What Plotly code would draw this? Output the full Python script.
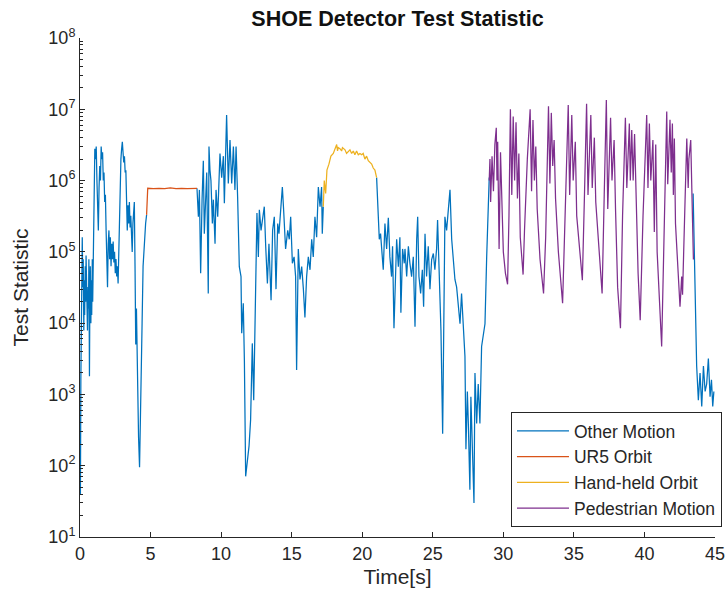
import plotly.graph_objects as go

# ---------------- data ----------------
other_t = [
    0.00, 0.03, 0.06, 0.10, 0.13, 0.16, 0.20, 0.23, 0.27, 0.30, 0.33, 0.37, 0.40, 0.43, 0.47,
    0.50, 0.53, 0.57, 0.60, 0.63, 0.67, 0.70, 0.73, 0.77, 0.80, 0.83, 0.87, 0.90, 0.93, 0.96,
    1.00, 1.05, 1.10, 1.15, 1.20, 1.25, 1.30, 1.35, 1.40, 1.45, 1.50, 1.55, 1.60, 1.65, 1.70,
    1.75, 1.80, 1.85, 1.90, 1.95, 2.00, 2.05, 2.10, 2.15, 2.20, 2.25, 2.30, 2.35, 2.40, 2.45,
    2.50, 2.55, 2.60, 2.65, 2.70, 2.75, 2.80, 2.85, 2.90, 2.95, 3.00, 3.05, 3.10, 3.15, 3.20,
    3.25, 3.30, 3.35, 3.40, 3.45, 3.50, 3.55, 3.60, 3.65, 3.70, 3.75, 3.80, 3.85, 3.90, 3.95,
    4.00, 4.05, 4.10, 4.15, 4.22, 4.28, 4.33, 4.40, 4.47, 4.55, 4.65, 4.72,
    None,
    8.29, 8.39, 8.46, 8.55, 8.65, 8.74, 8.81, 8.91, 8.98, 9.09, 9.14, 9.21, 9.28, 9.38, 9.45,
    9.57, 9.64, 9.76, 9.85, 9.92, 10.04, 10.16, 10.23, 10.32, 10.39, 10.51, 10.63, 10.75, 10.87,
    10.98, 11.06, 11.17, 11.29, 11.41, 11.46, 11.57, 11.65, 11.74, 11.86, 11.98, 12.09, 12.21,
    12.31, 12.45, 12.54, 12.64, 12.71, 12.83, 12.94, 13.06, 13.16, 13.28, 13.39, 13.54, 13.65,
    13.77, 13.89, 14.01, 14.10, 14.24, 14.34, 14.43, 14.57, 14.72, 14.83, 14.93, 15.05, 15.17,
    15.28, 15.35, 15.47, 15.59, 15.71, 15.83, 15.94, 16.06, 16.18, 16.30, 16.42, 16.53, 16.65,
    16.77, 16.89, 17.01, 17.12, 17.17, 17.24,
    None,
    21.02, 21.14, 21.21, 21.30, 21.37, 21.49, 21.61, 21.73, 21.85, 21.96, 22.08, 22.15, 22.25,
    22.34, 22.44, 22.56, 22.67, 22.74, 22.86, 22.98, 23.03, 23.15, 23.27, 23.38, 23.50, 23.62,
    23.74, 23.86, 23.93, 24.02, 24.14, 24.26, 24.35, 24.45, 24.56, 24.68, 24.80, 24.92, 25.04,
    25.15, 25.27, 25.34, 25.46, 25.58, 25.70, 25.79, 25.86, 25.98, 26.10, 26.22, 26.34, 26.45,
    26.57, 26.69, 26.81, 26.93, 27.04, 27.16, 27.28, 27.35, 27.45, 27.52, 27.63, 27.70, 27.80,
    27.92, 27.99, 28.11, 28.22, 28.34, 28.46, 28.58, 28.70, 28.82, 28.93, 29.00,
    None,
    43.45, 43.55, 43.70, 43.82, 43.94, 44.06, 44.18, 44.30, 44.41, 44.53, 44.65, 44.75, 44.84, 44.92,
]
other_v = [
    2.0e2, 40, 1.6e3, 6.3e4, 1.6e4, 1.6e5, 3.2e4, 7.9e4, 7.9e3, 4.0e4, 1.3e4, 6.3e4, 2.0e4, 8.9e4, 2.5e4,
    5.0e4, 7.9e3, 3.2e4, 1.6e4, 7.9e4, 1.8e3, 2.5e4, 6.3e4, 1.0e4, 4.0e4, 1.3e4, 7.9e4, 2.0e4, 5.0e4, 3.2e5,
    1.6e6, 2.8e6, 2.0e6, 3.0e6, 1.0e6, 5.0e5, 2.0e5, 7.9e5, 1.6e6, 1.0e6, 3.0e6, 2.0e6, 2.5e6, 1.0e6, 1.3e6,
    5.0e5, 6.3e5, 2.0e5, 1.0e5, 3.2e4, 1.3e5, 2.0e5, 7.9e4, 1.6e5, 6.3e4, 1.3e5, 7.9e4, 1.4e5, 7.1e4, 1.0e5,
    5.0e4, 7.9e4, 4.5e4, 6.3e4, 3.6e4, 1.0e5, 4.0e5, 1.0e6, 2.0e6, 2.8e6, 3.5e6, 2.5e6, 1.8e6, 2.2e6, 1.3e6,
    1.4e6, 4.0e5, 2.0e5, 4.5e5, 2.5e5, 5.0e5, 2.2e5, 3.2e5, 1.6e5, 1.0e5, 2.5e5, 4.0e5, 5.0e5, 6.3e4, 5.0e3,
    1.6e4, 2.0e3, 6.3e2, 2.5e2, 95, 3.2e2, 2.0e3, 1.0e4, 6.3e4, 1.3e5, 2.5e5, 3.3e5,
    None,
    7.8e5, 3.1e5, 7.4e5, 5.0e4, 5.4e5, 1.9e6, 1.8e5, 7.4e5, 1.3e6, 2.6e4, 3.0e6, 1.4e6, 1.0e6, 2.5e5, 5.4e5,
    1.3e5, 7.4e5, 3.1e5, 7.4e5, 2.4e6, 1.1e6, 2.2e6, 4.8e5, 2.2e6, 8.3e6, 9.1e5, 3.7e6, 9.1e5, 3.0e6,
    7.4e5, 3.0e6, 5.9e5, 6.2e4, 4.5e4, 7.2e3, 1.9e4, 3.0e3, 71, 1.3e2, 1.9e2, 4.4e2, 5.2e3,
    8.3e2, 3.0e4, 3.5e5, 8.5e4, 3.9e5, 2.0e5, 3.1e5, 4.3e5, 1.2e5, 3.6e4, 1.3e5, 2.1e4, 2.0e5,
    3.1e5, 3.0e4, 2.5e5, 1.8e5, 5.4e5, 8.1e5, 3.9e5, 1.1e5, 2.0e5, 1.5e5, 3.1e5, 6.9e4, 8.5e4,
    4.5e4, 2.2e3, 1.1e5, 4.1e4, 6.2e4, 3.0e4, 1.2e4, 4.5e4, 8.5e4, 5.6e4, 1.5e5, 8.5e4, 3.1e5,
    1.6e5, 8.1e5, 4.3e5, 8.1e5, 1.8e5, 4.3e5,
    None,
    1.1e6, 3.1e5, 1.5e5, 1.8e5, 1.1e5, 5.6e4, 2.5e5, 1.1e5, 3.0e5, 8.5e4, 4.5e4, 1.2e5, 8.5e3,
    4.5e4, 1.5e5, 6.2e4, 1.6e5, 1.4e4, 1.1e5, 6.9e4, 1.1e5, 4.5e4, 1.2e5, 6.9e4, 4.5e4, 8.5e4,
    8.9e3, 1.5e5, 3.1e5, 4.5e4, 2.6e4, 5.6e4, 1.7e4, 1.8e5, 4.5e4, 1.2e5, 3.0e4, 7.8e4, 9.5e4,
    5.6e4, 1.1e5, 2.8e5, 5.6e4, 7.9e3, 2.8e2, 4.5e4, 3.1e5, 2.0e5, 3.5e5, 7.4e5, 1.5e5, 8.5e4,
    4.1e4, 3.2e4, 1.5e4, 9.8e3, 2.6e4, 7.9e3, 3.4e3, 1.7e2, 1.1e3, 3.9e2, 46, 9.3e2, 1.3e2,
    30, 2.0e3, 3.9e2, 1.4e3, 3.9e2, 4.7e3, 6.5e3, 9.8e3, 8.5e4, 7.4e5, 1.1e6,
    None,
    6.6e5, 8.5e4, 2.5e3, 8.3e2, 2.0e3, 6.8e2, 2.5e3, 1.1e3, 1.4e3, 3.2e3, 9.3e2, 1.6e3, 6.8e2, 1.1e3,
]

ur5_t = [4.72, 4.76, 4.80, 5.20, 5.60, 6.00, 6.40, 6.80, 7.20, 7.60, 8.00, 8.29]
ur5_v = [3.3e5, 6.0e5, 7.8e5, 7.7e5, 7.8e5, 7.7e5, 7.9e5, 7.7e5, 7.8e5, 7.7e5, 7.8e5, 7.8e5]

handheld_t = [17.24, 17.31, 17.41, 17.50, 17.64, 17.78, 17.95, 18.07, 18.19, 18.25, 18.30, 18.42,
              18.54, 18.60, 18.66, 18.78, 18.89, 19.01, 19.13, 19.25, 19.37, 19.48, 19.60, 19.72,
              19.84, 19.96, 20.07, 20.19, 20.31, 20.43, 20.55, 20.67, 20.78, 20.90, 21.02]
handheld_v = [4.3e5, 1.0e6, 6.6e5, 1.4e6, 1.7e6, 2.2e6, 2.4e6, 2.7e6, 3.2e6, 2.6e6, 2.9e6, 2.8e6,
              2.6e6, 2.9e6, 2.8e6, 2.7e6, 2.4e6, 2.6e6, 2.7e6, 2.4e6, 2.6e6, 2.3e6, 2.6e6, 2.3e6,
              2.4e6, 2.3e6, 2.4e6, 2.0e6, 2.2e6, 1.9e6, 1.8e6, 1.7e6, 1.5e6, 1.4e6, 1.1e6]

pedestrian_t = [
    29.00, 29.05, 29.10, 29.20, 29.30, 29.40, 29.50, 29.55, 29.60, 29.70, 29.80, 29.90, 30.00, 30.15,
    30.30, 30.40, 30.50, 30.60, 30.70, 30.80, 30.90, 31.00, 31.10, 31.20, 31.40, 31.50, 31.70, 31.90,
    32.00, 32.10, 32.20, 32.30, 32.40, 32.60, 32.85, 33.00, 33.20, 33.30, 33.40, 33.50, 33.60, 33.70,
    33.90, 34.20, 34.40, 34.60, 34.70, 34.85, 34.95, 35.10, 35.20, 35.40, 35.60, 35.75, 35.90, 36.00,
    36.20, 36.30, 36.45, 36.55, 36.80, 37.00, 37.15, 37.30, 37.40, 37.60, 37.70, 37.85, 37.95, 38.10,
    38.30, 38.45, 38.65, 38.75, 38.93, 39.00, 39.10, 39.20, 39.30, 39.45, 39.55, 39.70, 39.90, 40.16,
    40.25, 40.35, 40.45, 40.60, 40.70, 40.80, 40.90, 41.22, 41.35, 41.58, 41.65, 41.81, 41.90, 41.98,
    42.05, 42.12, 42.20, 42.40, 42.52, 42.64, 42.70, 42.88, 43.00, 43.10, 43.15, 43.28, 43.35, 43.47,
]
pedestrian_v = [
    1.0e6, 2.0e6, 5.0e5, 2.2e6, 7.1e5, 3.2e6, 5.5e6, 1.0e6, 3.5e6, 1.1e5, 2.5e6, 3.2e5, 1.0e5, 5.0e4,
    3.5e4, 3.2e5, 1.0e7, 6.3e5, 7.9e6, 1.0e6, 6.6e6, 5.6e5, 2.4e6, 1.6e5, 4.8e4, 2.0e5, 2.0e6, 1.0e7,
    7.1e5, 7.1e6, 1.0e6, 3.0e6, 4.0e5, 7.9e4, 2.6e4, 1.6e5, 1.1e7, 9.1e5, 8.9e6, 1.6e6, 3.7e6, 5.6e5,
    1.0e5, 1.9e4, 5.0e5, 1.15e7, 6.3e5, 8.3e6, 1.0e6, 3.5e6, 3.2e5, 1.0e5, 4.0e4, 6.3e5, 1.2e7, 6.3e5,
    8.3e6, 7.9e5, 4.0e6, 5.0e5, 7.9e4, 2.6e4, 6.3e5, 1.35e7, 4.0e5, 7.6e6, 1.0e6, 3.7e6, 4.0e5, 3.2e4,
    8.5e3, 3.2e5, 7.6e6, 7.9e5, 6.3e6, 1.0e6, 5.1e6, 1.0e6, 4.5e6, 4.3e5, 5.0e4, 1.1e4, 3.2e5, 8.3e6,
    7.9e5, 6.3e6, 1.0e6, 3.7e6, 1.9e5, 3.2e6, 1.0e5, 4.7e3, 1.0e5, 9.3e6, 8.9e5, 7.1e6, 1.3e6, 6.3e6,
    6.3e5, 3.9e6, 2.5e5, 4.0e4, 1.7e4, 4.5e4, 2.5e4, 5.4e5, 3.9e6, 7.9e5, 2.0e6, 3.7e6, 5.4e5, 7.8e4,
]

series_names = ["Other Motion", "UR5 Orbit", "Hand-held Orbit", "Pedestrian Motion"]
series_colors = ["#0072BD", "#D95319", "#EDB120", "#7E2F8E"]

ytick_vals = [1e1, 1e2, 1e3, 1e4, 1e5, 1e6, 1e7, 1e8]
ytick_text = ["10<sup>1</sup>", "10<sup>2</sup>", "10<sup>3</sup>", "10<sup>4</sup>",
              "10<sup>5</sup>", "10<sup>6</sup>", "10<sup>7</sup>", "10<sup>8</sup>"]
xtick_vals = [0, 5, 10, 15, 20, 25, 30, 35, 40, 45]

# ---------------- figure ----------------
FONT = "Liberation Sans, Arial, Helvetica, sans-serif"
AX = "#262626"

fig = go.Figure()
series = [(other_t, other_v), (ur5_t, ur5_v), (handheld_t, handheld_v), (pedestrian_t, pedestrian_v)]
for (tt, vv), name, col in zip(series, series_names, series_colors):
    fig.add_trace(go.Scatter(x=tt, y=vv, mode="lines", name=name,
                             line=dict(color=col, width=1.25), connectgaps=False))

fig.update_layout(
    width=726, height=602,
    margin=dict(l=80, r=11, t=38, b=65, autoexpand=False),
    paper_bgcolor="white", plot_bgcolor="white",
    font=dict(family=FONT, color=AX),
    title=dict(text="<b>SHOE Detector Test Statistic</b>", x=0.5, xref="paper", xanchor="center",
               y=1 - 18 / 602, yref="container", yanchor="middle",
               font=dict(size=21.5, color="#111111", family=FONT)),
    showlegend=True,
    legend=dict(x=1.011, xanchor="right", y=0.02, yanchor="bottom",
                bgcolor="white", bordercolor=AX, borderwidth=1, itemwidth=52,
                font=dict(size=17.5, color=AX, family=FONT), tracegroupgap=0),
)

fig.update_xaxes(range=[0, 45], tickvals=xtick_vals, ticks="inside", ticklen=5, tickcolor=AX,
                 showline=True, linecolor=AX, linewidth=1, mirror=False, showgrid=False, zeroline=False,
                 automargin=False,
                 tickfont=dict(size=18, color=AX, family=FONT),
                 title=dict(text="Time[s]", font=dict(size=21, color=AX, family=FONT), standoff=6))

fig.update_yaxes(type="log", range=[1, 8], tickvals=ytick_vals, ticktext=ytick_text,
                 ticks="inside", ticklen=5, tickcolor=AX,
                 minor=dict(ticks="inside", ticklen=3, tickcolor=AX, dtick="D1", showgrid=False),
                 showline=True, linecolor=AX, linewidth=1, mirror=False, showgrid=False, zeroline=False,
                 automargin=False,
                 tickfont=dict(size=18, color=AX, family=FONT),
                 title=dict(text="Test Statistic", font=dict(size=21, color=AX, family=FONT), standoff=14))

fig.write_html("out.html")
